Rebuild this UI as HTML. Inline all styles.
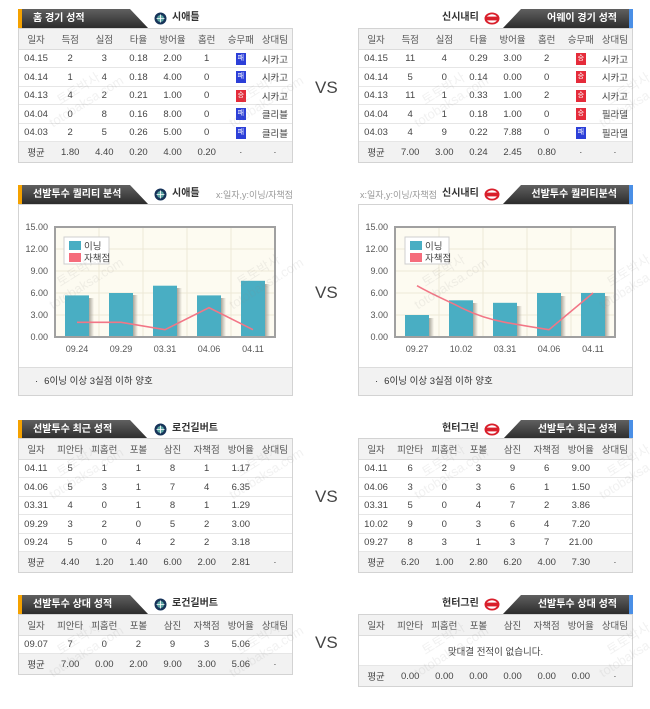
<!DOCTYPE html>
<html><head><meta charset="utf-8">
<style>
*{margin:0;padding:0;box-sizing:border-box}
body{width:650px;height:709px;background:#fff;position:relative;overflow:hidden;font-family:"Liberation Sans","Noto Sans CJK KR",sans-serif;color:#444}
.tabL,.tabR{position:absolute;height:19px;background:linear-gradient(#606060,#2c2c2c);color:#fff;font-weight:bold;font-size:10px;line-height:19px;white-space:nowrap;font-family:"Liberation Sans","Noto Sans CJK KR",sans-serif}
.tabL{left:18px;width:130px;clip-path:polygon(0 0,112px 0,130px 100%,0 100%);padding-left:15px}
.tabL:before{content:"";position:absolute;left:0;top:0;width:4px;height:19px;background:#f5a200}
.tabR{left:503px;width:130px;clip-path:polygon(18px 0,100% 0,100% 100%,0 100%);text-align:right;padding-right:16px}
.tabR:after{content:"";position:absolute;right:0;top:0;width:4px;height:19px;background:#4a8fe6}
.team{position:absolute;font-size:10px;font-weight:bold;color:#333;line-height:14px;white-space:nowrap}
.sub{position:absolute;font-size:9px;color:#999;line-height:14px;white-space:nowrap}
.box{position:absolute;width:275px;border:1px solid #d3d3d3;background:#fff}
.r{display:flex;align-items:center;border-bottom:1px solid #e6e6e6;font-size:9.5px;color:#444;height:18px}
.r span{flex:1;text-align:center;white-space:nowrap}
.r.h{background:#f2f2f2;height:21px;color:#555;border-bottom:1px solid #dcdcdc}
.r.a{background:#f2f2f2;height:20px;border-bottom:none}
.r.t{height:19px}
.b{display:inline-block;width:10px;height:12px;line-height:12px;font-size:7px;color:#fff;vertical-align:middle;font-style:normal}
.L{background:#2c3fd8}.W{background:#e52b3a}
.vs{position:absolute;left:315px;font-size:17px;color:#444;line-height:20px}
.foot{position:absolute;left:0;bottom:0;width:273px;height:28px;background:#f2f2f2;border-top:1px solid #dcdcdc;font-size:9.5px;color:#333;line-height:27px;white-space:nowrap}
.wm{position:absolute;transform:rotate(-32deg);color:rgba(140,140,140,0.12);font-size:13px;line-height:15px;white-space:nowrap;text-align:center}
</style></head><body>

<!-- ============ SECTION 1 ============ -->
<div class="tabL" style="top:9px">홈 경기 성적</div>
<svg style="position:absolute;left:154px;top:12px" width="13" height="13" viewBox="0 0 13 13"><circle cx="6.5" cy="6.5" r="6" fill="#17345a"/><circle cx="6.5" cy="6.5" r="3.5" fill="#5aa3a0"/><path d="M6.5 2.5V10.5M2.5 6.5H10.5" stroke="#fff" stroke-width="0.8"/></svg>
<div class="team" style="left:172px;top:11px">시애틀</div>
<div class="team" style="left:442px;top:11px">신시내티</div>
<svg style="position:absolute;left:484px;top:12px" width="16" height="13" viewBox="0 0 16 13"><ellipse cx="8" cy="6.5" rx="7.5" ry="6" fill="#d91f2b"/><ellipse cx="8" cy="6.5" rx="5.5" ry="4.3" fill="#fff"/><rect x="2" y="4.6" width="12" height="3.8" fill="#d91f2b"/></svg>
<div class="tabR" style="top:9px">어웨이 경기 성적</div>

<div class="box" style="left:18px;top:28px">
<div class="r h"><span>일자</span><span>득점</span><span>실점</span><span>타율</span><span>방어율</span><span>홈런</span><span>승무패</span><span>상대팀</span></div>
<div class="r"><span>04.15</span><span>2</span><span>3</span><span>0.18</span><span>2.00</span><span>1</span><span><i class="b L">패</i></span><span>시카고</span></div>
<div class="r t"><span>04.14</span><span>1</span><span>4</span><span>0.18</span><span>4.00</span><span>0</span><span><i class="b L">패</i></span><span>시카고</span></div>
<div class="r"><span>04.13</span><span>4</span><span>2</span><span>0.21</span><span>1.00</span><span>0</span><span><i class="b W">승</i></span><span>시카고</span></div>
<div class="r t"><span>04.04</span><span>0</span><span>8</span><span>0.16</span><span>8.00</span><span>0</span><span><i class="b L">패</i></span><span>클리블</span></div>
<div class="r"><span>04.03</span><span>2</span><span>5</span><span>0.26</span><span>5.00</span><span>0</span><span><i class="b L">패</i></span><span>클리블</span></div>
<div class="r a"><span>평균</span><span>1.80</span><span>4.40</span><span>0.20</span><span>4.00</span><span>0.20</span><span>·</span><span>·</span></div>
</div>

<div class="box" style="left:358px;top:28px">
<div class="r h"><span>일자</span><span>득점</span><span>실점</span><span>타율</span><span>방어율</span><span>홈런</span><span>승무패</span><span>상대팀</span></div>
<div class="r"><span>04.15</span><span>11</span><span>4</span><span>0.29</span><span>3.00</span><span>2</span><span><i class="b W">승</i></span><span>시카고</span></div>
<div class="r t"><span>04.14</span><span>5</span><span>0</span><span>0.14</span><span>0.00</span><span>0</span><span><i class="b W">승</i></span><span>시카고</span></div>
<div class="r"><span>04.13</span><span>11</span><span>1</span><span>0.33</span><span>1.00</span><span>2</span><span><i class="b W">승</i></span><span>시카고</span></div>
<div class="r t"><span>04.04</span><span>4</span><span>1</span><span>0.18</span><span>1.00</span><span>0</span><span><i class="b W">승</i></span><span>필라델</span></div>
<div class="r"><span>04.03</span><span>4</span><span>9</span><span>0.22</span><span>7.88</span><span>0</span><span><i class="b L">패</i></span><span>필라델</span></div>
<div class="r a"><span>평균</span><span>7.00</span><span>3.00</span><span>0.24</span><span>2.45</span><span>0.80</span><span>·</span><span>·</span></div>
</div>
<div class="vs" style="top:78px">VS</div>

<!-- ============ SECTION 2 ============ -->
<div class="tabL" style="top:185px">선발투수 퀄리티 분석</div>
<svg style="position:absolute;left:154px;top:188px" width="13" height="13" viewBox="0 0 13 13"><circle cx="6.5" cy="6.5" r="6" fill="#17345a"/><circle cx="6.5" cy="6.5" r="3.5" fill="#5aa3a0"/><path d="M6.5 2.5V10.5M2.5 6.5H10.5" stroke="#fff" stroke-width="0.8"/></svg>
<div class="team" style="left:172px;top:187px">시애틀</div>
<div class="sub" style="left:216px;top:188px">x:일자,y:이닝/자책점</div>
<div class="sub" style="left:360px;top:188px">x:일자,y:이닝/자책점</div>
<div class="team" style="left:442px;top:187px">신시내티</div>
<svg style="position:absolute;left:484px;top:188px" width="16" height="13" viewBox="0 0 16 13"><ellipse cx="8" cy="6.5" rx="7.5" ry="6" fill="#d91f2b"/><ellipse cx="8" cy="6.5" rx="5.5" ry="4.3" fill="#fff"/><rect x="2" y="4.6" width="12" height="3.8" fill="#d91f2b"/></svg>
<div class="tabR" style="top:185px">선발투수 퀄리티분석</div>

<div class="box" style="left:18px;top:204px;height:192px"><div class="foot"><span style="margin-left:16px">·</span><span style="margin-left:6px">6이닝 이상 3실점 이하 양호</span></div></div>
<div class="box" style="left:358px;top:204px;height:192px"><div class="foot"><span style="margin-left:16px">·</span><span style="margin-left:6px">6이닝 이상 3실점 이하 양호</span></div></div>
<div class="vs" style="top:283px">VS</div>

<svg style="position:absolute;left:0;top:0" width="650" height="709" font-family="Liberation Sans, Noto Sans CJK KR, sans-serif">
<defs><linearGradient id="sh" x1="0" x2="1"><stop offset="0" stop-color="#a9a59a"/><stop offset="1" stop-color="#a9a59a" stop-opacity="0"/></linearGradient></defs>
<!-- left chart -->
<rect x="55" y="227" width="220" height="110" fill="#fdfbf1"/>
<g stroke="#ede8d6" stroke-width="1">
<line x1="55" y1="249" x2="275" y2="249"/><line x1="55" y1="271" x2="275" y2="271"/><line x1="55" y1="293" x2="275" y2="293"/><line x1="55" y1="315" x2="275" y2="315"/>
<line x1="99" y1="227" x2="99" y2="337"/><line x1="143" y1="227" x2="143" y2="337"/><line x1="187" y1="227" x2="187" y2="337"/><line x1="231" y1="227" x2="231" y2="337"/>
</g>
<g fill="url(#sh)">
<rect x="89" y="298" width="5" height="39"/><rect x="133" y="295" width="5" height="42"/><rect x="177" y="288" width="5" height="49"/><rect x="221" y="298" width="5" height="39"/><rect x="265" y="284" width="5" height="53"/>
</g>
<g fill="#49aec3">
<rect x="65" y="295.4" width="24" height="41.6"/><rect x="109" y="293" width="24" height="44"/><rect x="153" y="285.7" width="24" height="51.3"/><rect x="197" y="295.4" width="24" height="41.6"/><rect x="241" y="280.8" width="24" height="56.2"/>
</g>
<polyline points="77,322.3 121,322.3 165,329.7 209,307.7 253,329.7" fill="none" stroke="#f27686" stroke-width="1.6"/>
<rect x="55" y="227" width="220" height="110" fill="none" stroke="#a0a0a0" stroke-width="2"/>
<rect x="64" y="237" width="45" height="27" fill="#fff" stroke="#cfcfcf"/>
<rect x="69" y="241" width="12" height="9" fill="#49aec3"/><rect x="69" y="253" width="12" height="9" fill="#f56c7c"/>
<g font-size="9.5" fill="#444"><text x="84" y="249.5">이닝</text><text x="84" y="261.5">자책점</text></g>
<g font-size="9" fill="#555" text-anchor="end">
<text x="48" y="230">15.00</text><text x="48" y="252">12.00</text><text x="48" y="274">9.00</text><text x="48" y="296">6.00</text><text x="48" y="318">3.00</text><text x="48" y="340">0.00</text>
</g>
<g font-size="9" fill="#555" text-anchor="middle">
<text x="77" y="352">09.24</text><text x="121" y="352">09.29</text><text x="165" y="352">03.31</text><text x="209" y="352">04.06</text><text x="253" y="352">04.11</text>
</g>
<!-- right chart -->
<rect x="395" y="227" width="220" height="110" fill="#fdfbf1"/>
<g stroke="#ede8d6" stroke-width="1">
<line x1="395" y1="249" x2="615" y2="249"/><line x1="395" y1="271" x2="615" y2="271"/><line x1="395" y1="293" x2="615" y2="293"/><line x1="395" y1="315" x2="615" y2="315"/>
<line x1="439" y1="227" x2="439" y2="337"/><line x1="483" y1="227" x2="483" y2="337"/><line x1="527" y1="227" x2="527" y2="337"/><line x1="571" y1="227" x2="571" y2="337"/>
</g>
<g fill="url(#sh)">
<rect x="429" y="318" width="5" height="19"/><rect x="473" y="303" width="5" height="34"/><rect x="517" y="306" width="5" height="31"/><rect x="561" y="296" width="5" height="41"/><rect x="605" y="296" width="5" height="41"/>
</g>
<g fill="#49aec3">
<rect x="405" y="315" width="24" height="22"/><rect x="449" y="300.3" width="24" height="36.7"/><rect x="493" y="302.8" width="24" height="34.2"/><rect x="537" y="293" width="24" height="44"/><rect x="581" y="293" width="24" height="44"/>
</g>
<path d="M417,285.7 C437,297 455,304 461,307.7 C478,316 492,320 505,322.3 C522,325.5 538,328 549,329.7 L593,293" fill="none" stroke="#f27686" stroke-width="1.6"/>
<rect x="395" y="227" width="220" height="110" fill="none" stroke="#a0a0a0" stroke-width="2"/>
<rect x="405" y="237" width="44" height="27" fill="#fff" stroke="#cfcfcf"/>
<rect x="410" y="241" width="12" height="9" fill="#49aec3"/><rect x="410" y="253" width="12" height="9" fill="#f56c7c"/>
<g font-size="9.5" fill="#444"><text x="425" y="249.5">이닝</text><text x="425" y="261.5">자책점</text></g>
<g font-size="9" fill="#555" text-anchor="end">
<text x="388" y="230">15.00</text><text x="388" y="252">12.00</text><text x="388" y="274">9.00</text><text x="388" y="296">6.00</text><text x="388" y="318">3.00</text><text x="388" y="340">0.00</text>
</g>
<g font-size="9" fill="#555" text-anchor="middle">
<text x="417" y="352">09.27</text><text x="461" y="352">10.02</text><text x="505" y="352">03.31</text><text x="549" y="352">04.06</text><text x="593" y="352">04.11</text>
</g>
</svg>

<!-- ============ SECTION 3 ============ -->
<div class="tabL" style="top:420px">선발투수 최근 성적</div>
<svg style="position:absolute;left:154px;top:423px" width="13" height="13" viewBox="0 0 13 13"><circle cx="6.5" cy="6.5" r="6" fill="#17345a"/><circle cx="6.5" cy="6.5" r="3.5" fill="#5aa3a0"/><path d="M6.5 2.5V10.5M2.5 6.5H10.5" stroke="#fff" stroke-width="0.8"/></svg>
<div class="team" style="left:172px;top:422px">로건길버트</div>
<div class="team" style="left:442px;top:422px">헌터그린</div>
<svg style="position:absolute;left:484px;top:423px" width="16" height="13" viewBox="0 0 16 13"><ellipse cx="8" cy="6.5" rx="7.5" ry="6" fill="#d91f2b"/><ellipse cx="8" cy="6.5" rx="5.5" ry="4.3" fill="#fff"/><rect x="2" y="4.6" width="12" height="3.8" fill="#d91f2b"/></svg>
<div class="tabR" style="top:420px">선발투수 최근 성적</div>

<div class="box" style="left:18px;top:438px">
<div class="r h"><span>일자</span><span>피안타</span><span>피홈런</span><span>포볼</span><span>삼진</span><span>자책점</span><span>방어율</span><span>상대팀</span></div>
<div class="r"><span>04.11</span><span>5</span><span>1</span><span>1</span><span>8</span><span>1</span><span>1.17</span><span></span></div>
<div class="r t"><span>04.06</span><span>5</span><span>3</span><span>1</span><span>7</span><span>4</span><span>6.35</span><span></span></div>
<div class="r"><span>03.31</span><span>4</span><span>0</span><span>1</span><span>8</span><span>1</span><span>1.29</span><span></span></div>
<div class="r t"><span>09.29</span><span>3</span><span>2</span><span>0</span><span>5</span><span>2</span><span>3.00</span><span></span></div>
<div class="r"><span>09.24</span><span>5</span><span>0</span><span>4</span><span>2</span><span>2</span><span>3.18</span><span></span></div>
<div class="r a"><span>평균</span><span>4.40</span><span>1.20</span><span>1.40</span><span>6.00</span><span>2.00</span><span>2.81</span><span>·</span></div>
</div>

<div class="box" style="left:358px;top:438px">
<div class="r h"><span>일자</span><span>피안타</span><span>피홈런</span><span>포볼</span><span>삼진</span><span>자책점</span><span>방어율</span><span>상대팀</span></div>
<div class="r"><span>04.11</span><span>6</span><span>2</span><span>3</span><span>9</span><span>6</span><span>9.00</span><span></span></div>
<div class="r t"><span>04.06</span><span>3</span><span>0</span><span>3</span><span>6</span><span>1</span><span>1.50</span><span></span></div>
<div class="r"><span>03.31</span><span>5</span><span>0</span><span>4</span><span>7</span><span>2</span><span>3.86</span><span></span></div>
<div class="r t"><span>10.02</span><span>9</span><span>0</span><span>3</span><span>6</span><span>4</span><span>7.20</span><span></span></div>
<div class="r"><span>09.27</span><span>8</span><span>3</span><span>1</span><span>3</span><span>7</span><span>21.00</span><span></span></div>
<div class="r a"><span>평균</span><span>6.20</span><span>1.00</span><span>2.80</span><span>6.20</span><span>4.00</span><span>7.30</span><span>·</span></div>
</div>
<div class="vs" style="top:487px">VS</div>

<!-- ============ SECTION 4 ============ -->
<div class="tabL" style="top:595px">선발투수 상대 성적</div>
<svg style="position:absolute;left:154px;top:598px" width="13" height="13" viewBox="0 0 13 13"><circle cx="6.5" cy="6.5" r="6" fill="#17345a"/><circle cx="6.5" cy="6.5" r="3.5" fill="#5aa3a0"/><path d="M6.5 2.5V10.5M2.5 6.5H10.5" stroke="#fff" stroke-width="0.8"/></svg>
<div class="team" style="left:172px;top:597px">로건길버트</div>
<div class="team" style="left:442px;top:597px">헌터그린</div>
<svg style="position:absolute;left:484px;top:598px" width="16" height="13" viewBox="0 0 16 13"><ellipse cx="8" cy="6.5" rx="7.5" ry="6" fill="#d91f2b"/><ellipse cx="8" cy="6.5" rx="5.5" ry="4.3" fill="#fff"/><rect x="2" y="4.6" width="12" height="3.8" fill="#d91f2b"/></svg>
<div class="tabR" style="top:595px">선발투수 상대 성적</div>

<div class="box" style="left:18px;top:614px">
<div class="r h"><span>일자</span><span>피안타</span><span>피홈런</span><span>포볼</span><span>삼진</span><span>자책점</span><span>방어율</span><span>상대팀</span></div>
<div class="r"><span>09.07</span><span>7</span><span>0</span><span>2</span><span>9</span><span>3</span><span>5.06</span><span></span></div>
<div class="r a"><span>평균</span><span>7.00</span><span>0.00</span><span>2.00</span><span>9.00</span><span>3.00</span><span>5.06</span><span>·</span></div>
</div>

<div class="box" style="left:358px;top:614px">
<div class="r h"><span>일자</span><span>피안타</span><span>피홈런</span><span>포볼</span><span>삼진</span><span>자책점</span><span>방어율</span><span>상대팀</span></div>
<div class="r" style="height:30px"><span>맞대결 전적이 없습니다.</span></div>
<div class="r a"><span>평균</span><span>0.00</span><span>0.00</span><span>0.00</span><span>0.00</span><span>0.00</span><span>0.00</span><span>·</span></div>
</div>
<div class="vs" style="top:633px">VS</div>

<!-- watermarks -->
<div class="wm" style="left:40px;top:80px">토토박사<br>totobaksa.com</div>
<div class="wm" style="left:220px;top:80px">토토박사<br>totobaksa.com</div>
<div class="wm" style="left:405px;top:80px">토토박사<br>totobaksa.com</div>
<div class="wm" style="left:590px;top:80px">토토박사<br>totobaksa.com</div>
<div class="wm" style="left:40px;top:262px">토토박사<br>totobaksa.com</div>
<div class="wm" style="left:220px;top:262px">토토박사<br>totobaksa.com</div>
<div class="wm" style="left:405px;top:262px">토토박사<br>totobaksa.com</div>
<div class="wm" style="left:590px;top:262px">토토박사<br>totobaksa.com</div>
<div class="wm" style="left:40px;top:452px">토토박사<br>totobaksa.com</div>
<div class="wm" style="left:220px;top:452px">토토박사<br>totobaksa.com</div>
<div class="wm" style="left:405px;top:452px">토토박사<br>totobaksa.com</div>
<div class="wm" style="left:590px;top:452px">토토박사<br>totobaksa.com</div>
<div class="wm" style="left:40px;top:630px">토토박사<br>totobaksa.com</div>
<div class="wm" style="left:220px;top:630px">토토박사<br>totobaksa.com</div>
<div class="wm" style="left:405px;top:630px">토토박사<br>totobaksa.com</div>
<div class="wm" style="left:590px;top:630px">토토박사<br>totobaksa.com</div>
</body></html>
